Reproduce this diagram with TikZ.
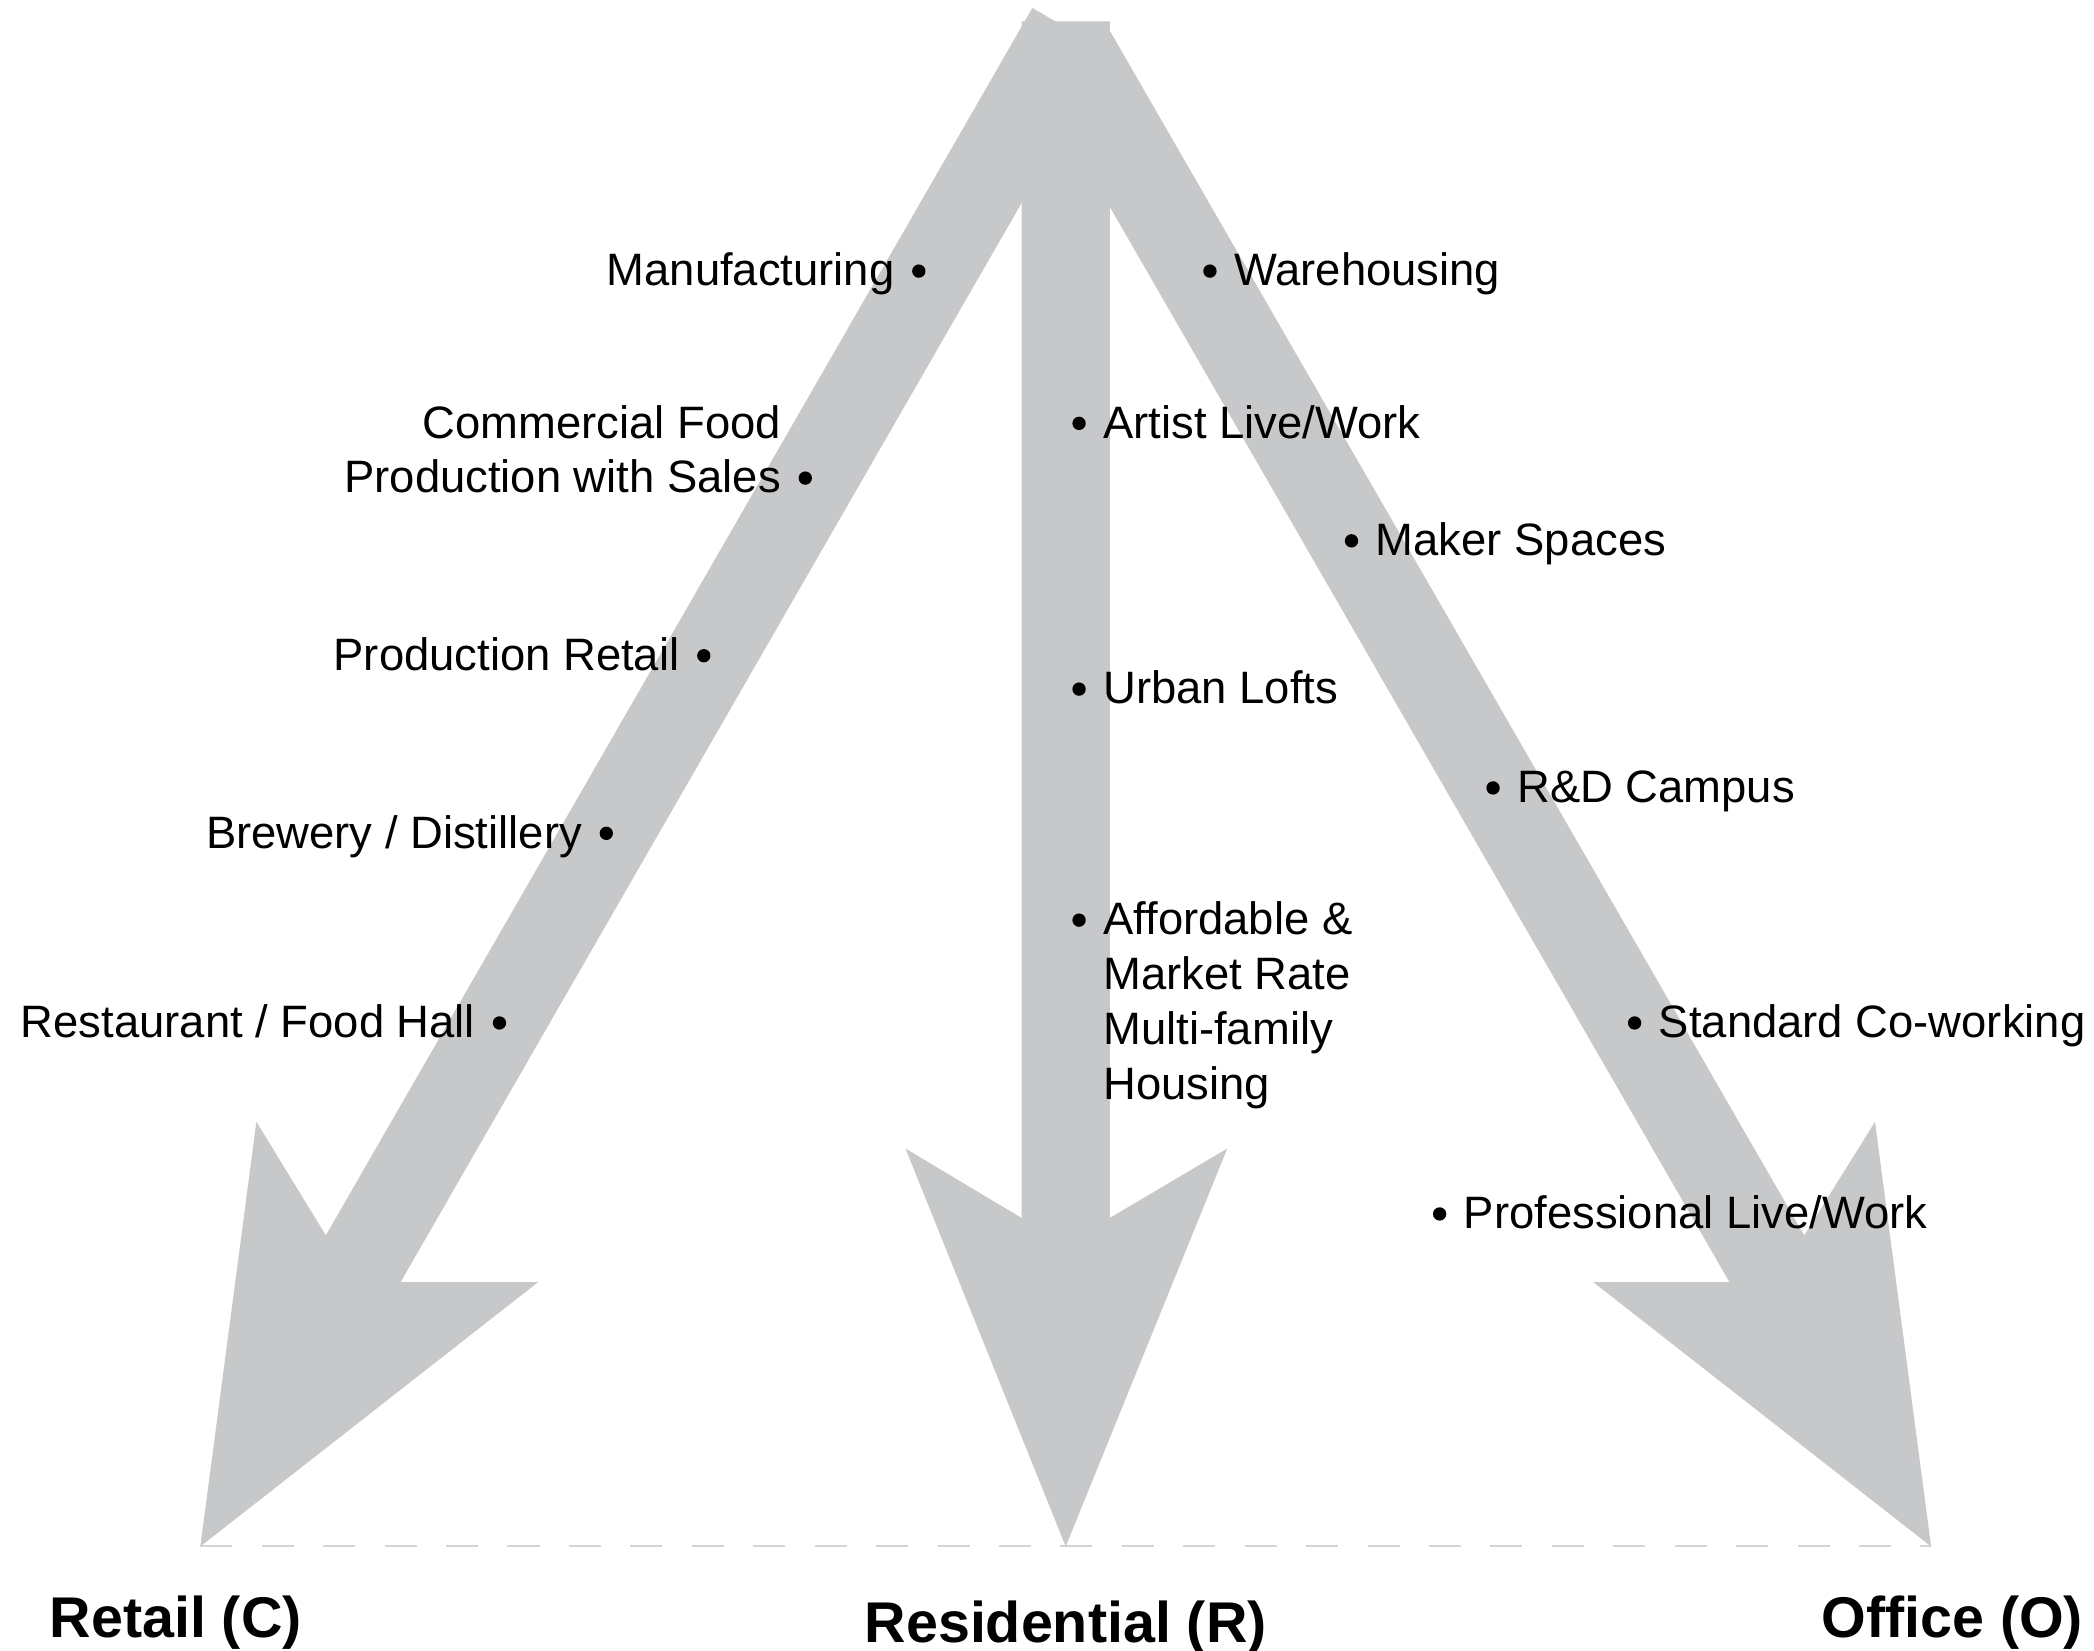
\documentclass[tikz,border=0pt]{standalone}
\usepackage{fontspec}
\setmainfont{Liberation Sans}
\definecolor{bandgray}{RGB}{199,200,202}
\definecolor{guidegray}{RGB}{212,212,212}
\begin{document}
\begin{tikzpicture}[x=1pt,y=-1pt,
  band/.style={fill=bandgray, draw=none},
  guide/.style={draw=guidegray, line width=1.5pt, dash pattern=on 24pt off 22pt},
  dot/.style={circle, fill=black, inner sep=0pt, minimum size=10pt},
  lbl/.style={inner sep=0pt, font=\fontsize{34}{41}\selectfont},
  axislbl/.style={inner sep=0pt, font=\fontsize{43}{50}\selectfont\bfseries}]
\useasboundingbox (0,0) rectangle (1568,1236);

% baseline joining the three end points
\coordinate (tipC) at (150,1158);
\coordinate (tipR) at (798,1158);
\coordinate (tipO) at (1446,1158);
\draw[guide] (tipC) -- (tipO);

% arrow towards Retail
\fill[band] (773,6) -- (830,39) -- (300,960) -- (403,960) -- (tipC)
  -- (192,840) -- (244,925) -- cycle;
% arrow towards Office
\fill[band] (827,16) -- (1351,925) -- (1404,840) -- (tipO)
  -- (1193,960) -- (1295,960) -- (770,49) -- cycle;
% arrow towards Residential
\fill[band] (765,16) -- (831,16) -- (831,912) -- (919,860) -- (tipR)
  -- (678,860) -- (765,912) -- cycle;

% uses along the Retail arrow
\node[dot] (b-manu) at (688,203) {};
\node[lbl, anchor=base east] (t-manu) at ([shift={(-18,11)}]b-manu.center) {Manufacturing};
\node[dot] (b-food) at (603,358) {};
\node[lbl, anchor=base east] (t-food) at ([shift={(-18,11)}]b-food.center)
  {\begin{tabular}[b]{@{}r@{}}Commercial Food\\Production with Sales\end{tabular}};
\node[dot] (b-prod) at (527,491) {};
\node[lbl, anchor=base east] (t-prod) at ([shift={(-18,11)}]b-prod.center) {Production Retail};
\node[dot] (b-brew) at (454,624) {};
\node[lbl, anchor=base east] (t-brew) at ([shift={(-18,11)}]b-brew.center) {Brewery / Distillery};
\node[dot] (b-rest) at (374,766) {};
\node[lbl, anchor=base east] (t-rest) at ([shift={(-18,11)}]b-rest.center) {Restaurant / Food Hall};

% uses along the Residential arrow
\node[dot] (b-art) at (808,317) {};
\node[lbl, anchor=base west] (t-art) at ([shift={(18,11)}]b-art.center) {Artist Live/Work};
\node[dot] (b-loft) at (808,516) {};
\node[lbl, anchor=base west] (t-loft) at ([shift={(18,11)}]b-loft.center) {Urban Lofts};
\node[dot] (b-aff) at (808,689) {};
\node[lbl, anchor=base west] (t-aff) at ([shift={(18,11)}]b-aff.center)
  {\begin{tabular}[t]{@{}l@{}}Affordable \&\\Market Rate\\Multi-family\\Housing\end{tabular}};

% uses along the Office arrow
\node[dot] (b-ware) at (906,203) {};
\node[lbl, anchor=base west] (t-ware) at ([shift={(18,11)}]b-ware.center) {Warehousing};
\node[dot] (b-make) at (1012,405) {};
\node[lbl, anchor=base west] (t-make) at ([shift={(18,11)}]b-make.center) {Maker Spaces};
\node[dot] (b-rnd) at (1118,590) {};
\node[lbl, anchor=base west] (t-rnd) at ([shift={(18,11)}]b-rnd.center) {R\&D Campus};
\node[dot] (b-cow) at (1224,766) {};
\node[lbl, anchor=base west] (t-cow) at ([shift={(18,11)}]b-cow.center) {Standard Co-working};
\node[dot] (b-pro) at (1078,909) {};
\node[lbl, anchor=base west] (t-pro) at ([shift={(18,11)}]b-pro.center) {Professional Live/Work};

% end-point labels
\node[axislbl, anchor=base west] (l-retail) at (37,1226) {Retail (C)};
\node[axislbl, anchor=base] (l-resid) at (798,1230) {Residential (R)};
\node[axislbl, anchor=base east] (l-office) at (1560,1226) {Office (O)};
\end{tikzpicture}
\end{document}
